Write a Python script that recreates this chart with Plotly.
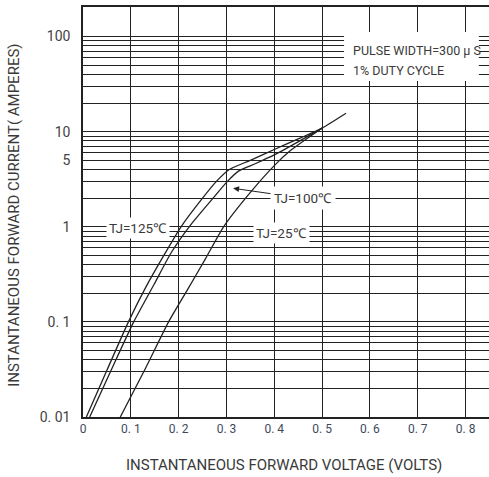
import plotly.graph_objects as go
import numpy as np

# ---- data ----
v_125 = [0.007, 0.05, 0.095, 0.13, 0.169, 0.205, 0.25, 0.279, 0.306, 0.35, 0.40, 0.455, 0.50, 0.55]
i_125 = [0.01, 0.031, 0.1, 0.225, 0.50, 1.0, 2.0, 3.0, 4.0, 5.0, 6.5, 8.6, 10.9, 15.6]

v_100 = [0.014, 0.06, 0.106, 0.149, 0.184, 0.222, 0.272, 0.302, 0.325, 0.36, 0.40, 0.455, 0.50]
i_100 = [0.01, 0.032, 0.1, 0.25, 0.53, 1.0, 2.0, 3.0, 3.85, 4.6, 5.7, 8.1, 10.9]

v_25 = [0.078, 0.13, 0.179, 0.218, 0.256, 0.294, 0.35, 0.40, 0.435, 0.47, 0.50]
i_25 = [0.01, 0.032, 0.1, 0.216, 0.46, 1.0, 2.3, 4.4, 6.4, 8.6, 10.9]

x_tickvals = [0, 0.1, 0.2, 0.3, 0.4, 0.5, 0.6, 0.7, 0.8]
x_ticktext = ["0", "0. 1", "0. 2", "0. 3", "0. 4", "0. 5", "0. 6", "0. 7", "0. 8"]
y_tickvals = [0.01, 0.1, 1, 5, 10, 100]
y_ticktext = ["0. 01", "0. 1", "1", "5", "10", "100"]

FONT = "Liberation Sans Narrow, Roboto, sans-serif"
INK = "#222222"
TXT = "#3a3a3a"

fig = go.Figure()
for vx, iy in [(v_125, i_125), (v_100, i_100), (v_25, i_25)]:
    fig.add_trace(go.Scatter(x=vx, y=iy, mode="lines",
                             line=dict(color=INK, width=1.3, shape="spline", smoothing=0.6),
                             showlegend=False, hoverinfo="skip"))

minor_vals = []
for d in [0.01, 0.1, 1, 10]:
    for k in range(2, 10):
        minor_vals.append(k * d)

fig.update_layout(
    width=489, height=477,
    margin=dict(l=83, r=0, t=7, b=60),
    paper_bgcolor="white", plot_bgcolor="white",
    font=dict(family=FONT, color=TXT, size=14),
    xaxis=dict(range=[0, 0.849], tickmode="array", tickvals=x_tickvals, ticktext=x_ticktext,
               showgrid=True, gridcolor=INK, gridwidth=1.2, zeroline=False,
               showline=True, linecolor=INK, linewidth=1.5, mirror=True,
               ticks="", tickfont=dict(size=12, color="#3d4a5c")),
    yaxis=dict(type="log", range=[-2, 2.311], tickmode="array", tickvals=y_tickvals, ticktext=y_ticktext,
               showgrid=True, gridcolor=INK, gridwidth=1.4, zeroline=False,
               showline=True, linecolor=INK, linewidth=1.5, mirror=False,
               ticks="", ticklabelstandoff=8, tickfont=dict(size=14, color="#444444"),
               minor=dict(tickmode="array", tickvals=minor_vals, showgrid=True,
                          gridcolor=INK, gridwidth=1, ticks="")),
)

# white box behind the test-condition note
fig.add_shape(type="rect", xref="paper", yref="paper",
              x0=0.643, x1=0.975, y0=0.8195, y1=0.939,
              fillcolor="white", line=dict(width=0), layer="above")

fig.add_annotation(text="PULSE WIDTH=300 μ S", xref="paper", yref="paper",
                   x=0.660, y=0.895, xanchor="left", yanchor="middle", showarrow=False,
                   font=dict(size=12.5, color=TXT))
fig.add_annotation(text="1% DUTY CYCLE", xref="paper", yref="paper",
                   x=0.660, y=0.846, xanchor="left", yanchor="middle", showarrow=False,
                   font=dict(size=12.5, color=TXT))

# curve labels
fig.add_annotation(text="TJ=125℃", x=0.114, y=np.log10(0.97), showarrow=False,
                   bgcolor="white", borderpad=2, font=dict(size=13.5, color=TXT))
fig.add_annotation(text="TJ=25℃", x=0.415, y=np.log10(0.87), showarrow=False,
                   bgcolor="white", borderpad=2, font=dict(size=13.5, color=TXT))
fig.add_annotation(text="TJ=100℃", x=0.3138, y=np.log10(2.54),
                   ax=70, ay=10, showarrow=True, arrowhead=2, arrowsize=1.2, arrowwidth=1,
                   arrowcolor=INK, bgcolor="white", borderpad=3,
                   font=dict(size=13.5, color=TXT))

# axis titles
fig.add_annotation(text="INSTANTANEOUS FORWARD VOLTAGE (VOLTS)", xref="paper", yref="paper",
                   x=0.495, y=-0.117, xanchor="center", yanchor="middle", showarrow=False,
                   font=dict(size=15, color=TXT))
fig.add_annotation(text="INSTANTANEOUS FORWARD CURRENT( AMPERES)", xref="paper", yref="paper",
                   x=-0.170, y=0.493, xanchor="center", yanchor="middle", showarrow=False,
                   textangle=-90, font=dict(size=15, color=TXT))

fig.write_html("out.html", config={"displayModeBar": False},
               post_script="document.body.style.margin='0px';")
